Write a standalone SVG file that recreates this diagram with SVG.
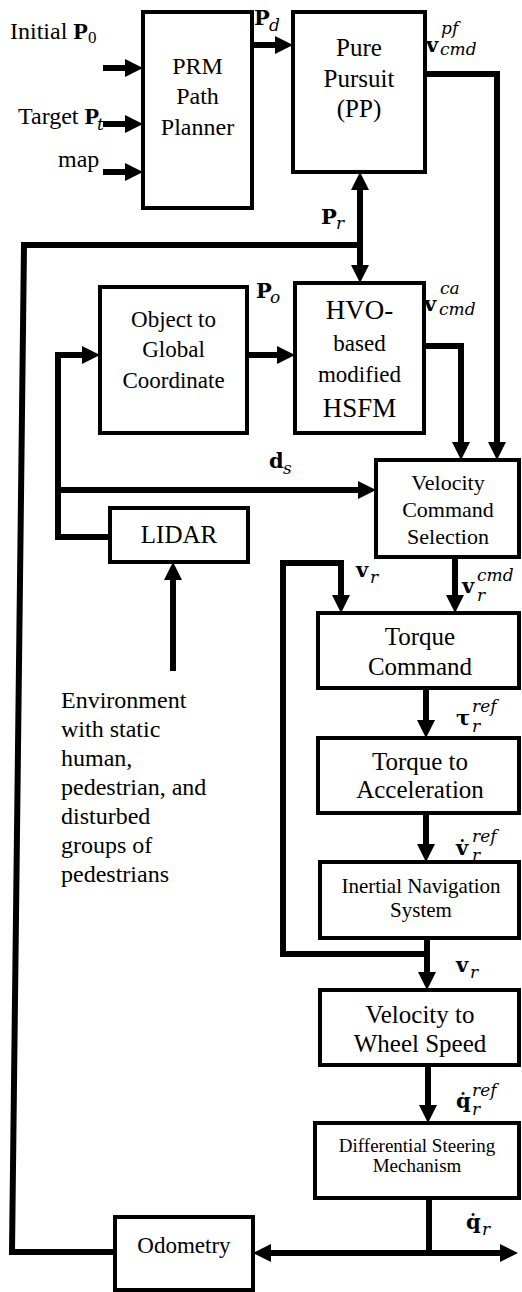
<svg xmlns="http://www.w3.org/2000/svg" width="522" height="1292" viewBox="0 0 522 1292">
<defs>
<style>
.box{fill:#fff;stroke:#000;stroke-width:4}
.c{fill:none;stroke:#000;stroke-width:6;stroke-linejoin:miter}
.a{marker-end:url(#ah)}
.t{font-family:"Liberation Serif",serif;fill:#000;text-anchor:middle}
.l{font-family:"Liberation Serif",serif;fill:#000;font-size:24px}
.mb{font-family:"DejaVu Serif",serif;font-weight:bold;fill:#000;font-size:21px}
.mi{font-family:"DejaVu Serif",serif;font-style:italic;fill:#000;font-size:17px}
</style>
<marker id="ah" markerUnits="userSpaceOnUse" markerWidth="18" markerHeight="18" viewBox="0 0 18 18" refX="0" refY="9" orient="auto-start-reverse"><path d="M0,0 L18,9 L0,18 z" fill="#000"/></marker>
</defs>
<rect width="522" height="1292" fill="#fff"/>

<g id="connectors">
<path class="c a" d="M103,68 H125"/>
<path class="c a" d="M103,124 H125"/>
<path class="c a" d="M103,172 H125"/>
<path class="c a" d="M252,45 H275"/>
<path class="c a" d="M425,74 H497 V442"/>
<path class="c" d="M363,245 H24 L12,1252 H115"/>
<path class="c a" d="M360,190 V265" marker-start="url(#ah)"/>
<path class="c a" d="M247,355 H277"/>
<path class="c a" d="M110,537 H58 V355 H82"/>
<path class="c a" d="M58,490 H358"/>
<path class="c a" d="M173,671 V580"/>
<path class="c a" d="M424,346 H461 V442"/>
<path class="c a" d="M455,557 V595"/>
<path class="c a" d="M430,954 H283 V563 H341 V595"/>
<path class="c a" d="M426,688 V720"/>
<path class="c a" d="M426,813 V844"/>
<path class="c a" d="M427,938 V972"/>
<path class="c a" d="M428,1065 V1105"/>
<path class="c" d="M429,1198 V1253"/>
<path class="c a" d="M271,1253 H500" marker-start="url(#ah)"/>
</g>

<g id="prm">
<rect class="box" x="143" y="12" width="109" height="196"/>
<text class="t" font-size="24" x="197.5" y="74">PRM</text>
<text class="t" font-size="24" x="197.5" y="104">Path</text>
<text class="t" font-size="24" x="197.5" y="135">Planner</text>
</g>

<g id="pp">
<rect class="box" x="293" y="12" width="132" height="160"/>
<text class="t" font-size="25" x="359" y="56">Pure</text>
<text class="t" font-size="25" x="359" y="87">Pursuit</text>
<text class="t" font-size="25" x="359" y="117">(PP)</text>
</g>

<g id="obj">
<rect class="box" x="100" y="287" width="147" height="146"/>
<text class="t" font-size="23" x="173.5" y="327">Object to</text>
<text class="t" font-size="23" x="173.5" y="357">Global</text>
<text class="t" font-size="23" x="173.5" y="388">Coordinate</text>
</g>

<g id="hvo">
<rect class="box" x="295" y="283" width="129" height="150"/>
<text class="t" font-size="27" x="359.5" y="319">HVO-</text>
<text class="t" font-size="23" x="359.5" y="351">based</text>
<text class="t" font-size="23" x="359.5" y="382">modified</text>
<text class="t" font-size="27" x="359.5" y="417">HSFM</text>
</g>

<g id="lidar">
<rect class="box" x="110" y="508" width="138" height="54"/>
<text class="t" font-size="25" x="179" y="543">LIDAR</text>
</g>

<g id="vcs">
<rect class="box" x="376" y="460" width="143" height="97"/>
<text class="t" font-size="22" x="448" y="490">Velocity</text>
<text class="t" font-size="22" x="448" y="517">Command</text>
<text class="t" font-size="22" x="448" y="544">Selection</text>
</g>

<g id="tc">
<rect class="box" x="318" y="613" width="201" height="75"/>
<text class="t" font-size="25" x="420" y="645">Torque</text>
<text class="t" font-size="25" x="420" y="675">Command</text>
</g>

<g id="ta">
<rect class="box" x="318" y="738" width="201" height="75"/>
<text class="t" font-size="25" x="420" y="770">Torque to</text>
<text class="t" font-size="25" x="420" y="798">Acceleration</text>
</g>

<g id="ins">
<rect class="box" x="320" y="862" width="199" height="76" stroke-width="5"/>
<text class="t" font-size="21" x="421" y="893">Inertial Navigation</text>
<text class="t" font-size="21" x="421" y="917">System</text>
</g>

<g id="vws">
<rect class="box" x="320" y="990" width="199" height="75"/>
<text class="t" font-size="25" x="420" y="1023">Velocity to</text>
<text class="t" font-size="25" x="420" y="1052">Wheel Speed</text>
</g>

<g id="dsm">
<rect class="box" x="315" y="1123" width="204" height="75" stroke-width="5"/>
<text class="t" font-size="19" x="417" y="1152">Differential Steering</text>
<text class="t" font-size="19" x="417" y="1172">Mechanism</text>
</g>

<g id="odometry">
<rect class="box" x="115" y="1217" width="138" height="73"/>
<text class="t" font-size="23" x="184" y="1253">Odometry</text>
</g>

<g id="environment">
<text class="l" font-size="25" x="61" y="708">Environment</text>
<text class="l" font-size="25" x="61" y="737">with static</text>
<text class="l" font-size="25" x="61" y="766">human,</text>
<text class="l" font-size="25" x="61" y="795">pedestrian, and</text>
<text class="l" font-size="25" x="61" y="824">disturbed</text>
<text class="l" font-size="25" x="61" y="853">groups of</text>
<text class="l" font-size="25" x="61" y="882">pedestrians</text>
</g>

<g id="labels">
<text class="l" x="10" y="39">Initial <tspan font-weight="bold">P</tspan><tspan font-size="17" y="43">0</tspan></text>
<text class="l" x="18" y="124">Target <tspan font-weight="bold">P</tspan></text>
<text class="mi" x="97" y="130" font-size="19">t</text>
<text class="l" x="58" y="167">map</text>

<text class="mb" x="254" y="25" font-size="20">P</text><text class="mi" x="269" y="31">d</text>
<text class="mb" x="426" y="52">v</text><text class="mi" x="441" y="34">pf</text><text class="mi" x="440" y="55">cmd</text>
<text class="mb" x="321" y="224" font-size="20">P</text><text class="mi" x="336" y="229">r</text>
<text class="mb" x="256" y="298" font-size="20">P</text><text class="mi" x="270" y="303">o</text>
<text class="mb" x="424" y="311">v</text><text class="mi" x="440" y="294" font-size="16">ca</text><text class="mi" x="439" y="315" font-size="16">cmd</text>
<text class="mb" x="269" y="468">d</text><text class="mi" x="283" y="474">s</text>
<text class="mb" x="356" y="577">v</text><text class="mi" x="370" y="583">r</text>
<text class="mb" x="462" y="593">v</text><text class="mi" x="477" y="581">cmd</text><text class="mi" x="477" y="601">r</text>
<text class="mb" x="456" y="725">τ</text><text class="mi" x="472" y="712">ref</text><text class="mi" x="472" y="732">r</text>
<text class="mb" x="456" y="855">v̇</text><text class="mi" x="472" y="842">ref</text><text class="mi" x="472" y="861">r</text>
<text class="mb" x="456" y="972">v</text><text class="mi" x="470" y="978">r</text>
<text class="mb" x="456" y="1108">q̇</text><text class="mi" x="472" y="1096">ref</text><text class="mi" x="472" y="1115">r</text>
<text class="mb" x="466" y="1229">q̇</text><text class="mi" x="482" y="1235">r</text>
</g>
</svg>
